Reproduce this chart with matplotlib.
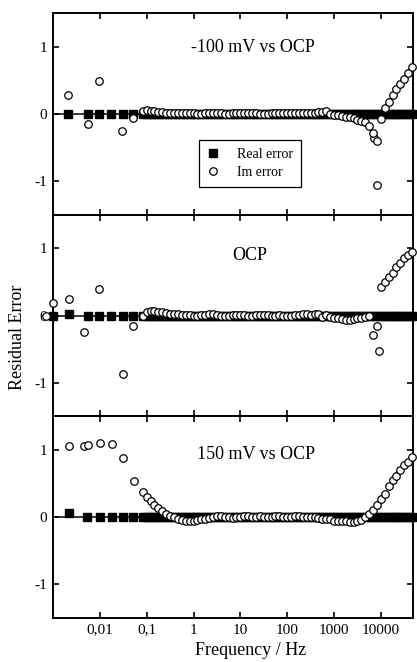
import matplotlib
matplotlib.use('Agg')
import matplotlib.pyplot as plt
from matplotlib.lines import Line2D
from matplotlib.ticker import NullLocator

plt.rcParams['font.family'] = ['Liberation Serif', 'DejaVu Serif']

# swept part of the spectrum (Hz), shared by the three measurements
freq_grid = [
    0.0825,
    0.1, 0.121, 0.147, 0.178, 0.215, 0.261, 0.316, 0.383, 0.464, 0.562, 0.681, 0.825,
    1, 1.21, 1.47, 1.78, 2.15, 2.61, 3.16, 3.83, 4.64, 5.62, 6.81, 8.25,
    10, 12.1, 14.7, 17.8, 21.5, 26.1, 31.6, 38.3, 46.4, 56.2, 68.1, 82.5,
    100, 121, 147, 178, 215, 261, 316, 383, 464, 562, 681, 825,
    1000, 1210, 1470, 1780, 2150, 2610, 3160, 3830, 4640, 5620, 6810, 8250,
    10000, 12100, 14700, 17800, 21500, 26100, 31600, 38300, 46400,
]

# -100 mV vs OCP
im1_grid = [
    0.04,
    0.06, 0.05, 0.04, 0.03, 0.03, 0.02, 0.02, 0.02, 0.01, 0.01, 0.01, 0.01,
    0.01, 0.00, 0.00, 0.01, 0.01, 0.02, 0.01, 0.01, 0.00, 0.00, 0.01, 0.01,
    0.01, 0.02, 0.02, 0.01, 0.01, 0.00, 0.00, 0.00, 0.01, 0.01, 0.02, 0.01,
    0.01, 0.01, 0.02, 0.02, 0.02, 0.01, 0.01, 0.02, 0.03, 0.03, 0.04, 0.00,
    -0.02, -0.02, -0.03, -0.04, -0.05, -0.06, -0.09, -0.10, -0.12, -0.18, -0.28, -0.40,
    -0.07, 0.09, 0.18, 0.28, 0.37, 0.44, 0.52, 0.61, 0.70,
]
re1_grid = [
    0.0,
    0.0, 0.0, 0.0, 0.0, 0.0, 0.0, 0.0, 0.0, 0.0, 0.0, 0.0, 0.0,
    0.0, 0.0, 0.0, 0.0, 0.0, 0.0, 0.0, 0.0, 0.0, 0.0, 0.0, 0.0,
    0.0, 0.0, 0.0, 0.0, 0.0, 0.0, 0.0, 0.0, 0.0, 0.0, 0.0, 0.0,
    0.0, 0.0, 0.0, 0.0, 0.0, 0.0, 0.0, 0.0, 0.0, 0.0, 0.0, 0.0,
    0.0, 0.0, 0.0, 0.0, 0.0, 0.0, 0.0, 0.0, 0.0, 0.0, 0.0, 0.0,
    0.0, 0.0, 0.0, 0.0, 0.0, 0.0, 0.0, 0.0, 0.0,
]
im1_low_f = [0.0021, 0.0055, 0.0095, 0.030, 0.052, 7200, 8300]
im1_low = [0.28, -0.15, 0.49, -0.25, -0.06, -0.36, -1.05]
re1_low_f = [0.0021, 0.0055, 0.0095, 0.017, 0.031, 0.052]
re1_low = [0.0, 0.0, 0.0, 0.0, 0.0, 0.0]

# OCP
im2_grid = [
    -0.01,
    0.05, 0.07, 0.07, 0.06, 0.05, 0.04, 0.03, 0.02, 0.02, 0.01, 0.01, 0.01,
    0.00, 0.00, 0.01, 0.01, 0.02, 0.02, 0.01, 0.00, 0.00, 0.00, 0.01, 0.01,
    0.01, 0.01, 0.00, 0.00, 0.01, 0.01, 0.01, 0.01, 0.00, 0.00, 0.01, 0.00,
    0.00, 0.00, 0.01, 0.01, 0.02, 0.02, 0.01, 0.03, 0.02, -0.02, 0.01, -0.02,
    -0.03, -0.04, -0.05, -0.06, -0.06, -0.05, -0.04, -0.03, -0.02, 0.00, -0.29, -0.16,
    0.42, 0.50, 0.57, 0.64, 0.72, 0.79, 0.85, 0.90, 0.94,
]
re2_grid = [
    0.0,
    0.0, 0.0, 0.0, 0.0, 0.0, 0.0, 0.0, 0.0, 0.0, 0.0, 0.0, 0.0,
    0.0, 0.0, 0.0, 0.0, 0.0, 0.0, 0.0, 0.0, 0.0, 0.0, 0.0, 0.0,
    0.0, 0.0, 0.0, 0.0, 0.0, 0.0, 0.0, 0.0, 0.0, 0.0, 0.0, 0.0,
    0.0, 0.0, 0.0, 0.0, 0.0, 0.0, 0.0, 0.0, 0.0, 0.0, 0.0, 0.0,
    0.0, 0.0, 0.0, 0.0, 0.0, 0.0, 0.0, 0.0, 0.0, 0.0, 0.0, 0.0,
    0.0, 0.0, 0.0, 0.0, 0.0, 0.0, 0.0, 0.0, 0.0,
]
im2_low_f = [0.0007, 0.001, 0.0022, 0.0046, 0.0095, 0.031, 0.052, 9200]
im2_low = [0.0, 0.19, 0.24, -0.24, 0.39, -0.87, -0.16, -0.53]
re2_low_f = [0.001, 0.0022, 0.0055, 0.0095, 0.017, 0.031, 0.052]
re2_low = [0.0, 0.02, 0.0, 0.0, 0.0, 0.0, 0.0]

# 150 mV vs OCP
im3_grid = [
    0.37,
    0.30, 0.24, 0.18, 0.13, 0.09, 0.05, 0.02, 0.00, -0.02, -0.04, -0.06, -0.06,
    -0.05, -0.04, -0.03, -0.02, -0.01, 0.00, 0.02, 0.02, 0.01, 0.00, -0.01, 0.00,
    0.01, 0.02, 0.02, 0.01, 0.01, 0.02, 0.01, 0.01, 0.01, 0.02, 0.02, 0.01,
    0.01, 0.01, 0.02, 0.02, 0.01, 0.01, 0.00, 0.00, -0.01, -0.02, -0.03, -0.03,
    -0.05, -0.05, -0.06, -0.06, -0.07, -0.07, -0.06, -0.04, 0.00, 0.05, 0.10, 0.18,
    0.27, 0.35, 0.46, 0.55, 0.62, 0.70, 0.77, 0.82, 0.89,
]
re3_grid = [
    0.0,
    0.0, 0.0, 0.0, 0.0, 0.0, 0.0, 0.0, 0.0, 0.0, 0.0, 0.0, 0.0,
    0.0, 0.0, 0.0, 0.0, 0.0, 0.0, 0.0, 0.0, 0.0, 0.0, 0.0, 0.0,
    0.0, 0.0, 0.0, 0.0, 0.0, 0.0, 0.0, 0.0, 0.0, 0.0, 0.0, 0.0,
    0.0, 0.0, 0.0, 0.0, 0.0, 0.0, 0.0, 0.0, 0.0, 0.0, 0.0, 0.0,
    0.0, 0.0, 0.0, 0.0, 0.0, 0.0, 0.0, 0.0, 0.0, 0.0, 0.0, 0.0,
    0.0, 0.0, 0.0, 0.0, 0.0, 0.0, 0.0, 0.0, 0.0,
]
im3_low_f = [0.0022, 0.0046, 0.0055, 0.010, 0.018, 0.031, 0.055]
im3_low = [1.06, 1.06, 1.07, 1.10, 1.09, 0.88, 0.54]
re3_low_f = [0.0022, 0.0053, 0.010, 0.018, 0.031, 0.052]
re3_low = [0.06, 0.0, 0.0, 0.0, 0.0, 0.0]

titles = ['-100 mV vs OCP', 'OCP', '150 mV vs OCP']
title_xy = [(0.556, 0.83), (0.547, 0.80), (0.565, 0.81)]

xticks = [0.01, 0.1, 1, 10, 100, 1000, 10000]
xtick_labels = ['0,01', '0,1', '1', '10', '100', '1000', '10000']

panels = [
    (re1_low_f + freq_grid, re1_low + re1_grid, im1_low_f + freq_grid, im1_low + im1_grid),
    (re2_low_f + freq_grid, re2_low + re2_grid, im2_low_f + freq_grid, im2_low + im2_grid),
    (re3_low_f + freq_grid, re3_low + re3_grid, im3_low_f + freq_grid, im3_low + im3_grid),
]

fig, axes = plt.subplots(3, 1, figsize=(4.17, 6.62), dpi=100, sharex=True)
fig.subplots_adjust(left=0.127, right=0.99, top=0.98, bottom=0.0665, hspace=0)

for ax, (fr, re, fi, im), title, txy in zip(axes, panels, titles, title_xy):
    ax.axhline(0, color='black', lw=1.1, zorder=1)
    ax.plot(fr, re, 's', color='black', ms=5.2, zorder=2, clip_on=False)
    ax.plot(fi, im, 'o', mfc='white', mec='black', mew=0.9, ms=5.4,
            zorder=3, clip_on=False)
    ax.set_xscale('log')
    ax.set_xlim(0.001, 48000)
    ax.set_ylim(-1.5, 1.5)
    ax.set_yticks([-1, 0, 1])
    ax.set_yticklabels(['-1', '0', '1'])
    ax.set_xticks(xticks)
    ax.set_xticklabels(xtick_labels)
    ax.xaxis.set_minor_locator(NullLocator())
    ax.tick_params(direction='in', top=True, right=True, length=4, width=1.2,
                   labelsize=11, pad=4)
    for s in ax.spines.values():
        s.set_linewidth(1.4)
    ax.text(txy[0], txy[1], title, transform=ax.transAxes, ha='center',
            va='center', fontsize=13)

for ax in axes[:-1]:
    ax.tick_params(labelbottom=False)

handles = [
    Line2D([], [], ls='none', marker='s', color='black', ms=5.2),
    Line2D([], [], ls='none', marker='o', mfc='white', mec='black', mew=0.9, ms=5.4),
]
leg = axes[0].legend(handles, ['Real error', 'Im error'], loc='lower left',
                     bbox_to_anchor=(0.405, 0.14), borderaxespad=0,
                     fontsize=10, frameon=True, fancybox=False, framealpha=1,
                     edgecolor='black', handlelength=1.0, handletextpad=1.2,
                     borderpad=0.55, labelspacing=0.35)
leg.get_frame().set_linewidth(0.9)

fig.text(0.043, 0.49, 'Residual Error', rotation=90, ha='center', va='center',
         fontsize=13)
fig.text(0.60, 0.018, 'Frequency / Hz', ha='center', va='center', fontsize=13)

fig.savefig('out.png', dpi=100)
